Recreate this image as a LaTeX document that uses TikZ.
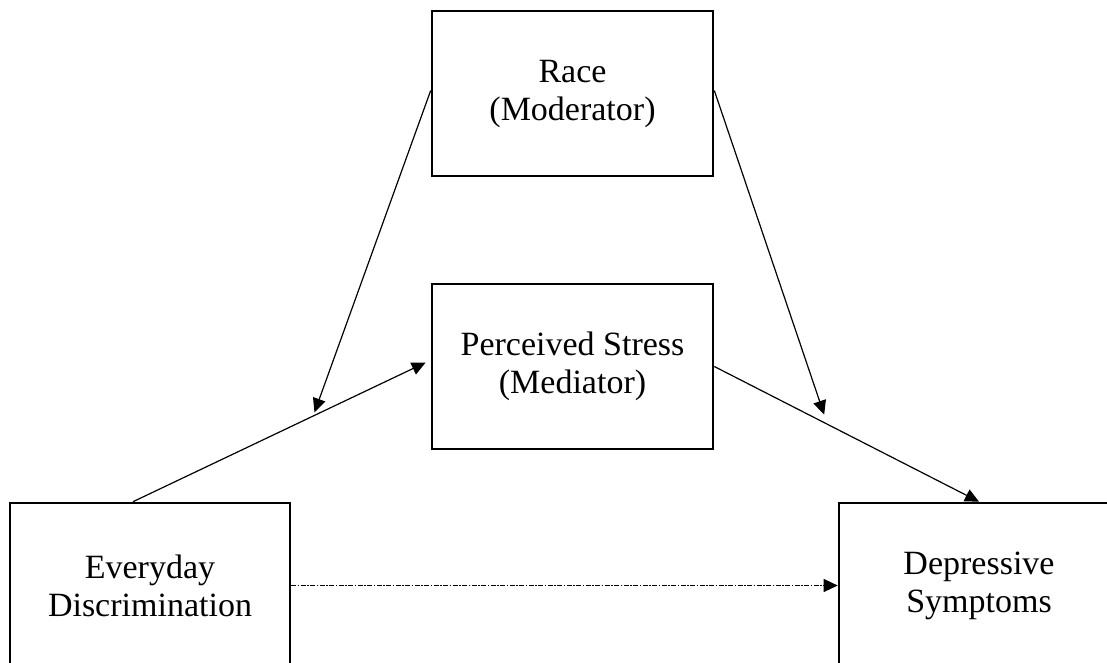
\documentclass[tikz,border=0pt]{standalone}
\usepackage{fontspec}
\setmainfont{Liberation Serif}
\usetikzlibrary{arrows.meta,calc}
\tikzset{>={Triangle[length=14pt,width=13pt]}, line/.style={line width=1.2pt}, box/.style={draw, line width=2.6pt, minimum width=281pt, minimum height=165pt, align=center, font=\fontsize{34}{38}\selectfont},
dashdot/.style={line width=1.2pt, dash pattern=on 5pt off 1.5pt on 1.5pt off 1.5pt}}

\begin{document}
\begin{tikzpicture}[x=1pt,y=-1pt]
\useasboundingbox (0,0) rectangle (1107,663);
\clip (0,0) rectangle (1107,663);
% Boxes
\node[box] (race) at (572.5,93.5) {Race\\(Moderator)};
\node[box] (stress) at (572.5,366.5) {Perceived Stress\\(Mediator)};
\node[box, minimum width=280pt] (discr) at (150,585.5) {Everyday\\Discrimination};
\node[box, minimum width=280pt] (depr) at (979,585.5) {Depressive\\Symptoms};

% Paths
\coordinate (a) at ([xshift=-17pt]discr.north);
\coordinate (b) at ([xshift=-5pt,yshift=4pt]stress.west);
\draw[->,line] (a) -- (b);
\draw[->,line] (stress.east) -- (depr.north);
\draw[->,dashdot] (discr.east) -- (depr.west);

% Moderation
\coordinate (m1) at ($(a)!0.62!(b)+(0,-3)$);
\coordinate (m2) at ($(stress.east)!0.415!(depr.north)+(0,-8)$);
\draw[->,line] ([yshift=3pt]race.west) -- (m1);
\draw[->,line] ([yshift=3pt]race.east) -- (m2);
\end{tikzpicture}
\end{document}
